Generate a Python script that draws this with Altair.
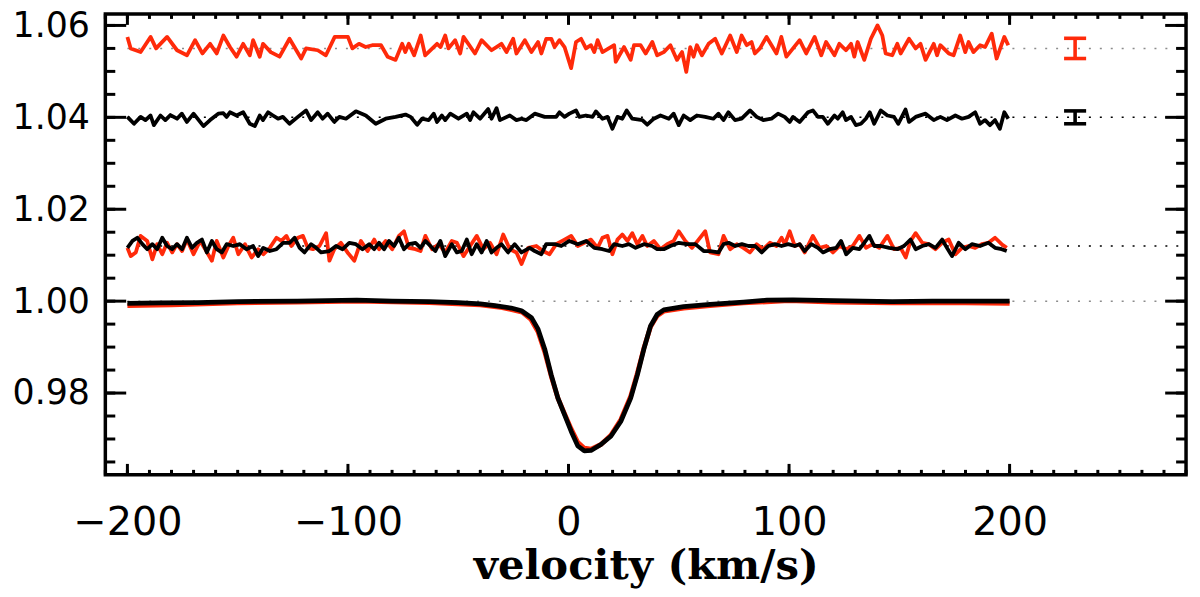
import altair as alt
import pandas as pd

# Stokes V (shifted to 1.055 / 1.040), null profiles (1.012) and Stokes I
V_RED = [
    (-200.0, 1.0575), (-198.5, 1.0550), (-194.0, 1.0542), (-189.5, 1.0575), (-187.0, 1.0550),
    (-182.0, 1.0575), (-177.5, 1.0546), (-173.0, 1.0535), (-169.3, 1.0568), (-166.0, 1.0539),
    (-162.5, 1.0560), (-159.5, 1.0539), (-156.5, 1.0578), (-153.5, 1.0553), (-150.5, 1.0532),
    (-147.5, 1.0560), (-144.5, 1.0535), (-143.0, 1.0568), (-140.0, 1.0532), (-138.5, 1.0560),
    (-135.0, 1.0542), (-131.0, 1.0532), (-126.5, 1.0571), (-121.2, 1.0528), (-119.0, 1.0550),
    (-113.7, 1.0546), (-110.0, 1.0535), (-106.0, 1.0575), (-100.0, 1.0575), (-98.0, 1.0550),
    (-95.0, 1.0560), (-92.0, 1.0553), (-89.0, 1.0557), (-85.0, 1.0557), (-82.0, 1.0532),
    (-78.4, 1.0525), (-75.4, 1.0560), (-74.0, 1.0542), (-72.4, 1.0560), (-70.0, 1.0535),
    (-67.0, 1.0578), (-65.0, 1.0535), (-59.6, 1.0560), (-58.0, 1.0553), (-55.9, 1.0578),
    (-54.4, 1.0550), (-51.4, 1.0568), (-49.1, 1.0539), (-47.6, 1.0575), (-42.4, 1.0539),
    (-39.4, 1.0568), (-34.9, 1.0546), (-30.4, 1.0560), (-28.1, 1.0542), (-25.1, 1.0571),
    (-23.6, 1.0539), (-19.8, 1.0568), (-16.8, 1.0542), (-13.8, 1.0564), (-12.3, 1.0539),
    (-10.1, 1.0571), (-7.8, 1.0571), (-6.3, 1.0553), (-4.1, 1.0568), (-1.8, 1.0553),
    (1.2, 1.0507), (3.4, 1.0564), (5.7, 1.0571), (7.9, 1.0550), (10.2, 1.0557),
    (11.7, 1.0542), (13.2, 1.0568), (15.4, 1.0542), (20.7, 1.0557), (21.4, 1.0521),
    (25.2, 1.0553), (28.2, 1.0525), (29.7, 1.0557), (32.7, 1.0557), (35.0, 1.0539),
    (38.0, 1.0564), (40.2, 1.0535), (43.2, 1.0542), (46.2, 1.0557), (49.2, 1.0525),
    (51.5, 1.0542), (53.4, 1.0499), (55.2, 1.0553), (56.7, 1.0532), (58.2, 1.0557),
    (60.5, 1.0535), (63.5, 1.0560), (66.5, 1.0571), (69.5, 1.0539), (73.3, 1.0578),
    (76.3, 1.0542), (78.5, 1.0578), (80.8, 1.0557), (83.0, 1.0564), (84.5, 1.0539),
    (86.8, 1.0550), (89.8, 1.0575), (94.3, 1.0539), (96.5, 1.0575), (98.8, 1.0532),
    (101.8, 1.0550), (104.8, 1.0568), (107.8, 1.0539), (111.6, 1.0575), (114.6, 1.0535),
    (116.8, 1.0564), (120.6, 1.0535), (122.8, 1.0560), (125.8, 1.0546), (128.1, 1.0560),
    (129.6, 1.0532), (131.1, 1.0564), (134.1, 1.0525), (137.1, 1.0571), (140.1, 1.0600),
    (142.3, 1.0578), (143.8, 1.0539), (146.8, 1.0535), (149.1, 1.0560), (150.6, 1.0539),
    (154.4, 1.0571), (157.4, 1.0550), (159.6, 1.0560), (161.9, 1.0525), (165.6, 1.0560),
    (167.1, 1.0535), (168.6, 1.0557), (172.4, 1.0539), (174.6, 1.0535), (177.6, 1.0578),
    (179.9, 1.0542), (181.4, 1.0564), (183.6, 1.0542), (186.6, 1.0557), (188.9, 1.0553),
    (191.9, 1.0582), (194.1, 1.0528), (197.6, 1.0575), (199.4, 1.0557),
]

V_BLACK = [
    (-200.0, 1.0401), (-197.0, 1.0386), (-194.0, 1.0401), (-191.8, 1.0394), (-189.5, 1.0404),
    (-188.0, 1.0383), (-185.0, 1.0404), (-182.8, 1.0394), (-180.5, 1.0405), (-177.5, 1.0397),
    (-175.3, 1.0408), (-173.0, 1.0390), (-170.0, 1.0408), (-165.5, 1.0381), (-162.5, 1.0394),
    (-158.8, 1.0408), (-156.5, 1.0409), (-155.0, 1.0401), (-153.5, 1.0411), (-150.5, 1.0404),
    (-147.5, 1.0411), (-144.5, 1.0386), (-142.2, 1.0381), (-140.0, 1.0404), (-138.5, 1.0394),
    (-136.2, 1.0411), (-134.0, 1.0404), (-131.7, 1.0397), (-129.5, 1.0401), (-126.5, 1.0386),
    (-122.7, 1.0401), (-119.0, 1.0415), (-116.7, 1.0394), (-113.7, 1.0411), (-111.5, 1.0397),
    (-109.2, 1.0408), (-106.2, 1.0390), (-103.9, 1.0401), (-100.9, 1.0397), (-96.4, 1.0413),
    (-91.9, 1.0404), (-87.4, 1.0386), (-82.9, 1.0397), (-78.4, 1.0401), (-73.9, 1.0406),
    (-71.6, 1.0401), (-68.6, 1.0384), (-66.4, 1.0397), (-63.4, 1.0394), (-61.1, 1.0408),
    (-59.6, 1.0390), (-57.4, 1.0404), (-55.9, 1.0394), (-53.6, 1.0408), (-49.9, 1.0397),
    (-46.1, 1.0408), (-44.6, 1.0394), (-43.1, 1.0411), (-40.1, 1.0397), (-36.4, 1.0418),
    (-34.9, 1.0397), (-32.6, 1.0420), (-31.1, 1.0394), (-26.6, 1.0404), (-23.6, 1.0394),
    (-21.3, 1.0397), (-19.1, 1.0394), (-15.3, 1.0408), (-10.8, 1.0401), (-5.6, 1.0401),
    (-4.1, 1.0411), (-1.8, 1.0401), (0.4, 1.0408), (3.4, 1.0415), (4.9, 1.0401),
    (7.9, 1.0404), (10.9, 1.0401), (12.4, 1.0413), (15.4, 1.0397), (17.7, 1.0401),
    (19.9, 1.0375), (22.2, 1.0401), (24.4, 1.0397), (26.4, 1.0415), (28.9, 1.0397),
    (33.5, 1.0394), (35.7, 1.0384), (38.7, 1.0397), (41.7, 1.0404), (45.5, 1.0397),
    (47.7, 1.0408), (50.0, 1.0383), (52.2, 1.0404), (55.2, 1.0394), (58.2, 1.0404),
    (62.0, 1.0401), (65.7, 1.0397), (68.0, 1.0408), (70.3, 1.0394), (72.5, 1.0411),
    (75.5, 1.0394), (78.5, 1.0397), (82.3, 1.0415), (85.3, 1.0401), (88.3, 1.0394),
    (92.0, 1.0397), (95.0, 1.0408), (98.0, 1.0401), (100.3, 1.0390), (101.8, 1.0401),
    (104.8, 1.0390), (108.6, 1.0411), (110.8, 1.0415), (113.1, 1.0401), (115.3, 1.0401),
    (117.6, 1.0386), (120.6, 1.0404), (122.1, 1.0397), (124.3, 1.0411), (125.8, 1.0394),
    (128.1, 1.0401), (130.3, 1.0383), (132.6, 1.0386), (134.8, 1.0397), (136.6, 1.0411),
    (138.6, 1.0386), (141.6, 1.0415), (144.6, 1.0404), (147.6, 1.0401), (149.5, 1.0386),
    (152.8, 1.0417), (154.4, 1.0390), (157.4, 1.0401), (161.9, 1.0408), (165.6, 1.0394),
    (168.6, 1.0401), (171.6, 1.0394), (175.4, 1.0404), (178.4, 1.0397), (181.4, 1.0401),
    (184.4, 1.0411), (186.6, 1.0386), (188.9, 1.0394), (191.1, 1.0383), (193.4, 1.0394),
    (195.6, 1.0375), (197.6, 1.0411), (199.4, 1.0397),
]

N_RED = [
    (-200.0, 1.0116), (-198.5, 1.0098), (-196.2, 1.0106), (-194.0, 1.0142), (-191.0, 1.0131),
    (-188.7, 1.0091), (-186.5, 1.0124), (-184.2, 1.0102), (-182.0, 1.0127), (-179.7, 1.0106),
    (-177.5, 1.0124), (-175.2, 1.0109), (-173.0, 1.0134), (-170.0, 1.0102), (-167.0, 1.0131),
    (-164.7, 1.0113), (-161.7, 1.0088), (-159.5, 1.0131), (-156.5, 1.0095), (-154.2, 1.0120),
    (-152.0, 1.0138), (-149.7, 1.0102), (-146.7, 1.0124), (-143.7, 1.0095), (-140.7, 1.0113),
    (-138.4, 1.0102), (-135.4, 1.0116), (-132.4, 1.0138), (-130.2, 1.0131), (-127.9, 1.0142),
    (-125.7, 1.0120), (-122.7, 1.0138), (-120.4, 1.0142), (-118.2, 1.0116), (-115.9, 1.0113),
    (-112.9, 1.0120), (-109.9, 1.0148), (-108.4, 1.0088), (-106.2, 1.0113), (-103.2, 1.0127),
    (-100.2, 1.0106), (-97.1, 1.0088), (-94.1, 1.0131), (-91.1, 1.0109), (-88.1, 1.0134),
    (-85.9, 1.0113), (-82.9, 1.0131), (-79.9, 1.0113), (-76.9, 1.0142), (-74.6, 1.0152),
    (-72.4, 1.0116), (-69.4, 1.0113), (-67.1, 1.0109), (-64.9, 1.0142), (-61.9, 1.0113),
    (-58.9, 1.0124), (-55.9, 1.0106), (-52.9, 1.0131), (-50.6, 1.0127), (-47.6, 1.0098),
    (-44.6, 1.0120), (-41.6, 1.0142), (-38.6, 1.0113), (-35.6, 1.0127), (-32.6, 1.0102),
    (-29.6, 1.0145), (-26.6, 1.0113), (-23.6, 1.0106), (-21.3, 1.0081), (-18.3, 1.0116),
    (-14.6, 1.0120), (-11.6, 1.0109), (-8.6, 1.0102), (-5.6, 1.0124), (-1.8, 1.0134),
    (1.2, 1.0142), (4.2, 1.0120), (7.2, 1.0127), (10.2, 1.0134), (13.2, 1.0116),
    (15.4, 1.0138), (17.7, 1.0142), (19.9, 1.0102), (22.2, 1.0134), (24.4, 1.0145),
    (26.7, 1.0131), (28.9, 1.0148), (31.2, 1.0124), (33.5, 1.0142), (35.7, 1.0120),
    (38.7, 1.0131), (41.7, 1.0113), (44.7, 1.0124), (47.7, 1.0131), (50.0, 1.0152),
    (53.0, 1.0131), (56.0, 1.0116), (59.0, 1.0134), (62.0, 1.0152), (64.2, 1.0106),
    (68.0, 1.0102), (70.3, 1.0142), (73.3, 1.0113), (76.3, 1.0124), (79.3, 1.0116),
    (82.3, 1.0106), (85.3, 1.0124), (88.3, 1.0113), (91.3, 1.0127), (94.3, 1.0120),
    (96.6, 1.0138), (98.1, 1.0124), (100.3, 1.0152), (102.6, 1.0120), (104.8, 1.0124),
    (107.1, 1.0106), (110.8, 1.0142), (113.9, 1.0116), (116.9, 1.0120), (119.9, 1.0106),
    (122.9, 1.0120), (125.9, 1.0113), (128.9, 1.0120), (131.9, 1.0142), (134.9, 1.0116),
    (137.9, 1.0124), (140.9, 1.0116), (144.6, 1.0142), (147.6, 1.0113), (150.6, 1.0116),
    (152.9, 1.0095), (155.1, 1.0131), (157.4, 1.0148), (160.4, 1.0127), (163.4, 1.0124),
    (166.4, 1.0113), (169.4, 1.0127), (172.4, 1.0134), (175.4, 1.0102), (178.4, 1.0116),
    (181.4, 1.0120), (184.4, 1.0116), (187.4, 1.0124), (190.4, 1.0127), (193.4, 1.0138),
    (196.4, 1.0124), (198.7, 1.0116),
]

N_BLACK = [
    (-200.0, 1.0116), (-197.7, 1.0131), (-195.5, 1.0138), (-193.2, 1.0124), (-191.0, 1.0113),
    (-188.7, 1.0124), (-186.5, 1.0113), (-184.2, 1.0138), (-182.0, 1.0120), (-179.7, 1.0113),
    (-177.5, 1.0124), (-175.2, 1.0113), (-173.0, 1.0138), (-170.7, 1.0116), (-168.5, 1.0127),
    (-166.2, 1.0134), (-164.0, 1.0106), (-161.7, 1.0131), (-159.5, 1.0113), (-157.2, 1.0106),
    (-155.0, 1.0124), (-152.0, 1.0120), (-149.0, 1.0124), (-146.0, 1.0113), (-143.0, 1.0120),
    (-140.7, 1.0098), (-138.4, 1.0116), (-135.4, 1.0109), (-132.4, 1.0113), (-129.4, 1.0127),
    (-126.4, 1.0127), (-124.2, 1.0138), (-121.9, 1.0116), (-119.7, 1.0106), (-116.7, 1.0124),
    (-114.4, 1.0116), (-112.2, 1.0106), (-108.4, 1.0109), (-105.4, 1.0120), (-102.4, 1.0113),
    (-99.4, 1.0127), (-96.4, 1.0124), (-93.4, 1.0113), (-90.4, 1.0124), (-88.1, 1.0113),
    (-85.9, 1.0127), (-83.6, 1.0113), (-81.4, 1.0131), (-79.1, 1.0120), (-76.9, 1.0138),
    (-74.6, 1.0113), (-72.4, 1.0124), (-69.4, 1.0127), (-67.1, 1.0116), (-64.9, 1.0131),
    (-62.6, 1.0120), (-60.4, 1.0109), (-58.1, 1.0131), (-55.9, 1.0098), (-52.9, 1.0124),
    (-50.6, 1.0106), (-48.4, 1.0109), (-46.1, 1.0134), (-43.9, 1.0102), (-41.6, 1.0124),
    (-39.4, 1.0106), (-37.1, 1.0131), (-34.9, 1.0106), (-32.6, 1.0116), (-30.4, 1.0124),
    (-27.4, 1.0106), (-24.4, 1.0124), (-21.3, 1.0106), (-17.6, 1.0116), (-15.3, 1.0109),
    (-12.3, 1.0102), (-10.1, 1.0124), (-6.3, 1.0124), (-3.3, 1.0120), (0.4, 1.0131),
    (4.2, 1.0124), (8.0, 1.0131), (11.7, 1.0116), (15.4, 1.0113), (18.4, 1.0109),
    (20.7, 1.0124), (24.4, 1.0120), (27.4, 1.0124), (30.4, 1.0116), (34.2, 1.0124),
    (37.9, 1.0120), (40.2, 1.0113), (43.2, 1.0113), (46.2, 1.0120), (50.0, 1.0127),
    (53.7, 1.0124), (57.5, 1.0124), (61.3, 1.0109), (64.2, 1.0109), (68.0, 1.0106),
    (70.3, 1.0124), (72.6, 1.0127), (75.6, 1.0120), (78.6, 1.0124), (81.6, 1.0120),
    (84.6, 1.0120), (87.6, 1.0106), (90.6, 1.0120), (93.6, 1.0124), (96.6, 1.0120),
    (99.6, 1.0124), (102.6, 1.0120), (104.8, 1.0124), (107.1, 1.0109), (110.1, 1.0124),
    (113.1, 1.0116), (115.4, 1.0106), (118.4, 1.0113), (121.4, 1.0116), (123.6, 1.0131),
    (125.9, 1.0102), (128.9, 1.0116), (131.9, 1.0113), (134.1, 1.0127), (136.4, 1.0142),
    (138.6, 1.0120), (141.6, 1.0120), (145.4, 1.0116), (149.1, 1.0113), (152.1, 1.0120),
    (155.1, 1.0134), (157.4, 1.0113), (160.4, 1.0120), (163.4, 1.0124), (166.4, 1.0116),
    (169.4, 1.0134), (171.6, 1.0116), (173.9, 1.0098), (176.9, 1.0127), (179.9, 1.0113),
    (182.9, 1.0124), (186.6, 1.0120), (190.4, 1.0127), (193.4, 1.0116), (196.4, 1.0113),
    (198.7, 1.0109),
]

I_RED = [
    (-200.0, 0.9990), (-180.0, 0.9992), (-150.0, 0.9996), (-123.0, 0.9998), (-96.0, 1.0000),
    (-63.0, 0.9997), (-40.0, 0.9992), (-30.0, 0.9986), (-21.0, 0.9976), (-17.0, 0.9960),
    (-13.8, 0.9933), (-10.8, 0.9890), (-7.8, 0.9836), (-4.8, 0.9789), (-1.8, 0.9755),
    (1.2, 0.9722), (4.2, 0.9693), (7.2, 0.9680), (10.2, 0.9678), (14.7, 0.9688),
    (19.2, 0.9708), (23.7, 0.9742), (28.2, 0.9793), (31.2, 0.9843), (34.2, 0.9898),
    (37.2, 0.9944), (40.2, 0.9968), (43.2, 0.9978), (52.2, 0.9985), (64.2, 0.9990),
    (79.3, 0.9996), (100.0, 1.0001), (120.0, 0.9998), (146.8, 0.9996), (170.0, 0.9997),
    (200.0, 0.9995),
]

I_BLACK = [
    (-200.0, 0.9995), (-185.0, 0.9996), (-168.0, 0.9997), (-150.0, 0.9999), (-123.0, 1.0000),
    (-96.0, 1.0002), (-80.0, 1.0000), (-63.0, 0.9999), (-50.0, 0.9997), (-40.0, 0.9994),
    (-33.3, 0.9990), (-26.0, 0.9985), (-21.3, 0.9979), (-16.8, 0.9964), (-13.8, 0.9939),
    (-10.8, 0.9896), (-7.8, 0.9839), (-4.8, 0.9789), (-1.8, 0.9753), (1.2, 0.9717),
    (4.2, 0.9685), (7.2, 0.9674), (10.2, 0.9675), (14.7, 0.9688), (19.2, 0.9706),
    (23.7, 0.9738), (28.2, 0.9789), (31.2, 0.9839), (34.2, 0.9896), (37.2, 0.9946),
    (40.2, 0.9971), (43.2, 0.9981), (52.2, 0.9988), (64.2, 0.9993), (79.3, 0.9998),
    (90.0, 1.0002), (101.8, 1.0003), (120.0, 1.0001), (146.8, 0.9999), (165.0, 1.0000),
    (185.0, 1.0000), (200.0, 1.0000),
]

# reference levels: (level, colour)
LEVELS = [(1.055, "#8c8c8c"), (1.040, "black"), (1.012, "black"), (1.000, "#8c8c8c")]
LEVEL_FROM, LEVEL_TO = -200, 280

# error bars: (centre, half height, colour)
ERRBARS = [(1.055, 0.0022, "red"), (1.040, 0.0014, "black")]
ERR_X, ERR_CAP = 229.7, 5.0

X_TICKS = [-200, -100, 0, 100, 200]
Y_TICKS = [0.98, 1.00, 1.02, 1.04, 1.06]
X_MINOR = list(range(-210, 281, 10))
Y_MINOR = [0.965 + 0.005 * i for i in range(20)]

RED = "#ff2a0a"
W, H = 1088, 464
FONT = "DejaVu Sans"

xs = alt.Scale(domain=[-210, 280], nice=False, zero=False)
ys = alt.Scale(domain=[0.9622, 1.0625], nice=False, zero=False)

x_axis = alt.Axis(
    values=X_TICKS, format="d", grid=False, ticks=False, tickSize=0, domain=False,
    labelFont=FONT, labelFontSize=40, labelColor="black", labelPadding=60,
    labelBaseline="alphabetic", labelFlush=False,
    title="velocity (km/s)", titleFont="DejaVu Serif", titleFontWeight="bold",
    titleFontSize=42, titleColor="black", titleBaseline="alphabetic", titleY=104,
)
y_axis = alt.Axis(
    values=Y_TICKS, format=".2f", grid=False, ticks=False, tickSize=0, domain=False,
    labelFont=FONT, labelFontSize=35, labelColor="black", labelPadding=16,
    title=None,
)

X = alt.X("v:Q", scale=xs, axis=x_axis)
Y = alt.Y("val:Q", scale=ys, axis=y_axis)


def series(points, colour, width=3.8):
    df = pd.DataFrame(points, columns=["v", "val"])
    return alt.Chart(df).mark_line(
        color=colour, strokeWidth=width, strokeJoin="round", clip=True
    ).encode(x=X, y=Y)


lev = pd.DataFrame(
    [{"v": LEVEL_FROM, "v2": LEVEL_TO, "val": lv, "c": c} for lv, c in LEVELS]
)
levels = alt.Chart(lev).mark_rule(strokeDash=[2, 9], strokeWidth=1.5).encode(
    x=X, x2="v2", y=Y, color=alt.Color("c:N", scale=None)
)

err_rows = []
cap_rows = []
for centre, half, c in ERRBARS:
    colour = RED if c == "red" else c
    err_rows.append({"v": ERR_X, "val": centre - half, "val2": centre + half, "c": colour})
    for lv in (centre - half, centre + half):
        cap_rows.append({"v": ERR_X - ERR_CAP, "v2": ERR_X + ERR_CAP, "val": lv, "c": colour})
err_bars = alt.Chart(pd.DataFrame(err_rows)).mark_rule(strokeWidth=3.6).encode(
    x=X, y=Y, y2="val2", color=alt.Color("c:N", scale=None)
)
err_caps = alt.Chart(pd.DataFrame(cap_rows)).mark_rule(strokeWidth=3.6).encode(
    x=X, x2="v2", y=Y, color=alt.Color("c:N", scale=None)
)

# inward ticks on all four sides
xt_major = pd.DataFrame({"v": X_TICKS})
xt_minor = pd.DataFrame({"v": X_MINOR})
yt_major = pd.DataFrame({"val": Y_TICKS})
yt_minor = pd.DataFrame({"val": Y_MINOR})
tick = dict(color="black", strokeWidth=3)
ticks = [
    alt.Chart(xt_major).mark_rule(**tick).encode(x=X, y=alt.value(H), y2=alt.value(H - 11)),
    alt.Chart(xt_major).mark_rule(**tick).encode(x=X, y=alt.value(0), y2=alt.value(11)),
    alt.Chart(xt_minor).mark_rule(**tick).encode(x=X, y=alt.value(H), y2=alt.value(H - 5)),
    alt.Chart(xt_minor).mark_rule(**tick).encode(x=X, y=alt.value(0), y2=alt.value(5)),
    alt.Chart(yt_major).mark_rule(**tick).encode(y=Y, x=alt.value(0), x2=alt.value(21)),
    alt.Chart(yt_major).mark_rule(**tick).encode(y=Y, x=alt.value(W), x2=alt.value(W - 21)),
    alt.Chart(yt_minor).mark_rule(**tick).encode(y=Y, x=alt.value(0), x2=alt.value(10)),
    alt.Chart(yt_minor).mark_rule(**tick).encode(y=Y, x=alt.value(W), x2=alt.value(W - 10)),
]

chart = alt.layer(
    levels,
    series(V_RED, RED),
    series(V_BLACK, "black"),
    series(N_RED, RED),
    series(N_BLACK, "black"),
    series(I_RED, RED, 4.8),
    series(I_BLACK, "black", 4.8),
    err_bars,
    err_caps,
    *ticks,
).properties(
    width=W,
    height=H,
    autosize=alt.AutoSizeParams(type="none"),
    padding={"left": 98, "top": 4, "right": 6, "bottom": 121},
).configure_view(
    stroke="black", strokeWidth=3.5
)

chart.save("out.html", embed_options={"renderer": "svg", "actions": False})
